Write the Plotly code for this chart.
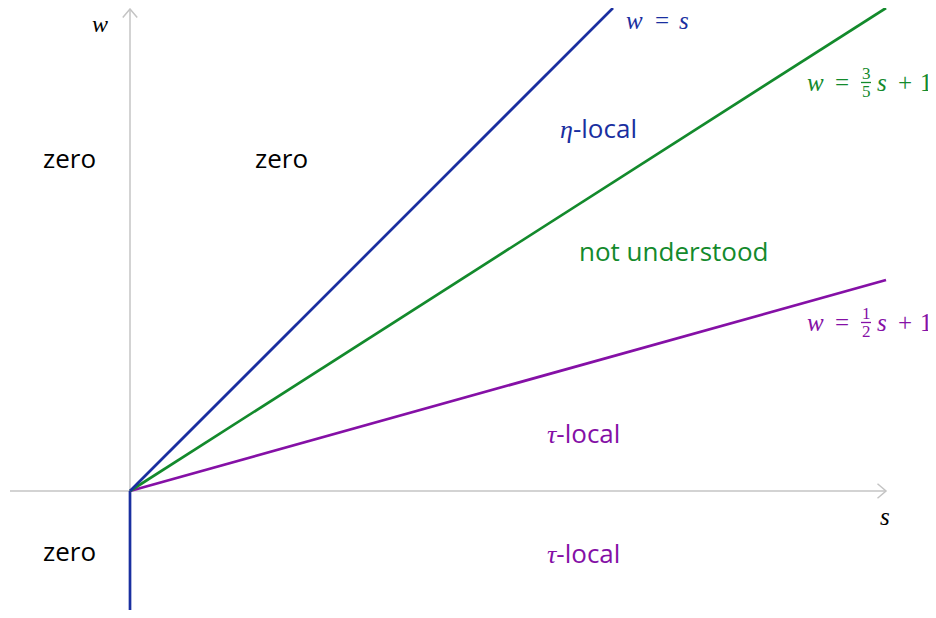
import plotly.graph_objects as go

# ---- schematic data (units: s horizontal, w vertical) ----
axis_s = [-1.20, 7.56]          # horizontal axis extent at w=0
axis_w = [-1.19, 4.82]          # vertical axis extent at s=0

blue_s = [0.0, 4.83]
blue_w = [0.0, 4.83]
blue_down_s = [0.0, 0.0]
blue_down_w = [0.0, -1.19]
green_s = [0.0, 7.56]
green_w = [0.0, 4.83]
purple_s = [0.0, 7.56]
purple_w = [0.0, 2.11]

GREEK = '<span style="font-family:Liberation Serif, DejaVu Serif, serif"><i>{}</i></span>'
region_labels = ["zero", "zero", "zero", GREEK.format("η") + "-local", "not understood",
                 GREEK.format("τ") + "-local", GREEK.format("τ") + "-local"]
region_s = [-0.61, 1.51, -0.61, 4.68, 5.43, 4.53, 4.53]
region_w = [3.33, 3.33, -0.60, 3.63, 2.40, 0.58, -0.62]

BLUE = "#1a2fa0"
GREEN = "#138a2c"
PURPLE = "#8510a6"
GRAY = "#c4c4c4"
BLACK = "#000000"
region_colors = [BLACK, BLACK, BLACK, BLUE, GREEN, PURPLE, PURPLE]

SANS = "Open Sans, DejaVu Sans, sans-serif"
SERIF = "Liberation Serif, DejaVu Serif, serif"

fig = go.Figure()

# axes
fig.add_trace(go.Scatter(x=axis_s, y=[0, 0], mode="lines",
                         line=dict(color=GRAY, width=1.5), hoverinfo="skip"))
fig.add_trace(go.Scatter(x=[0, 0], y=axis_w, mode="lines",
                         line=dict(color=GRAY, width=1.5), hoverinfo="skip"))
# arrow heads (open chevrons)
h = 0.085
fig.add_trace(go.Scatter(x=[axis_s[1] - h, axis_s[1], axis_s[1] - h],
                         y=[h * 0.85, 0, -h * 0.85], mode="lines",
                         line=dict(color=GRAY, width=1.5), hoverinfo="skip"))
fig.add_trace(go.Scatter(x=[-h * 0.85, 0, h * 0.85],
                         y=[axis_w[1] - h, axis_w[1], axis_w[1] - h], mode="lines",
                         line=dict(color=GRAY, width=1.5), hoverinfo="skip"))

# boundary lines
LW = 2.7
fig.add_trace(go.Scatter(x=blue_down_s, y=blue_down_w, mode="lines",
                         line=dict(color=BLUE, width=LW), hoverinfo="skip"))
fig.add_trace(go.Scatter(x=purple_s, y=purple_w, mode="lines",
                         line=dict(color=PURPLE, width=LW), hoverinfo="skip"))
fig.add_trace(go.Scatter(x=green_s, y=green_w, mode="lines",
                         line=dict(color=GREEN, width=LW), hoverinfo="skip"))
fig.add_trace(go.Scatter(x=blue_s, y=blue_w, mode="lines",
                         line=dict(color=BLUE, width=LW), hoverinfo="skip"))


def X(px):
    return (px - 130) / 100.0


def Y(py):
    return (491 - py) / 100.0


anns = []
for t, xs, yw, c in zip(region_labels, region_s, region_w, region_colors):
    anns.append(dict(x=xs, y=yw, text=t, showarrow=False,
                     font=dict(family=SANS, size=26, color=c),
                     xanchor="center", yanchor="middle"))


def piece(px, py, text, color, size=25, anchor="center", yanchor="middle"):
    return dict(x=X(px), y=Y(py), text=text, showarrow=False, xanchor=anchor,
                yanchor=yanchor, font=dict(family=SERIF, size=size, color=color))


# axis labels
anns.append(piece(100, 8.5, "<i>w</i>", BLACK, size=24, yanchor="top"))
anns.append(piece(885, 516, "<i>s</i>", BLACK))

# line label w = s
anns.append(piece(624, 20, "<i>w</i>", BLUE, anchor="left"))
anns.append(piece(662, 20, "=", BLUE))
anns.append(piece(684, 20, "<i>s</i>", BLUE))

shapes = []
for (cy, n, d, c) in [(82, "3", "5", GREEN), (322, "1", "2", PURPLE)]:
    anns.append(piece(805, cy, "<i>w</i>", c, anchor="left"))
    anns.append(piece(842, cy, "=", c))
    anns.append(piece(866, cy - 9, n, c, size=17))
    anns.append(piece(866, cy + 9, d, c, size=17))
    anns.append(piece(882, cy, "<i>s</i>", c))
    anns.append(piece(905, cy, "+", c))
    anns.append(piece(926, cy, "1", c))
    shapes.append(dict(type="line", x0=X(861), x1=X(871), y0=Y(cy + 0.5), y1=Y(cy + 0.5),
                       line=dict(color=c, width=1.3)))

# page has 8px body margin: plot area starts at page (8, 8)
fig.update_layout(
    width=936, height=618,
    margin=dict(l=0, r=0, t=0, b=0),
    paper_bgcolor="white", plot_bgcolor="white",
    showlegend=False,
    xaxis=dict(range=[X(8), X(944)], visible=False, fixedrange=True),
    yaxis=dict(range=[Y(626), Y(8)], visible=False, fixedrange=True),
    annotations=anns, shapes=shapes,
)

fig.write_html("out.html")
